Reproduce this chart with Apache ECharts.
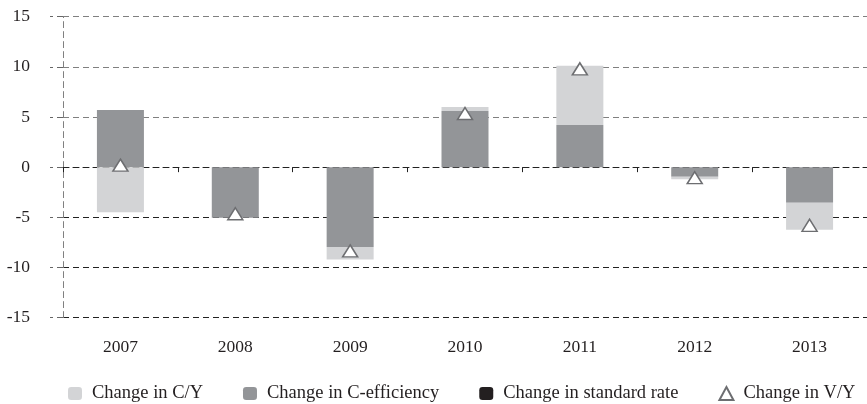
<!DOCTYPE html>
<html>
<head>
<meta charset="utf-8">
<script src="https://cdn.jsdelivr.net/npm/echarts@6/dist/echarts.min.js"></script>
<style>
  html, body {margin: 0; padding: 0; background: #fff;}
  #chart {width: 867px; height: 404px;}
</style>
</head>
<body>
<div id="chart"></div>
<script>
  // values
  const years = ['2007', '2008', '2009', '2010', '2011', '2012', '2013'];
  const changeCY = [-4.5, 0, -1.25, 0.4, 5.9, -0.25, -2.7];
  const changeCEff = [5.7, -5.05, -7.95, 5.6, 4.2, -0.95, -3.55];
  const changeStdRate = [0, 0, 0, 0, 0, 0, 0];
  const changeVY = [0.2, -4.65, -8.35, 5.35, 9.8, -1.05, -5.8];
  const yTicks = [-15, -10, -5, 0, 5, 10, 15];

  const textColor = '#231f20';
  const font = 'Liberation Serif';

  const chart = echarts.init(document.getElementById('chart'));
  chart.setOption({
    animation: false,
    textStyle: {fontFamily: font, color: textColor},
    grid: {left: 63, right: -6, top: 16.7, bottom: 86.4},
    legend: {
      left: 63,
      top: 379,
      itemWidth: 14,
      itemHeight: 13,
      itemGap: 40,
      textStyle: {fontFamily: font, fontSize: 18.5, color: textColor, padding: [0, 0, 0, 5]},
      data: ['Change in C/Y', 'Change in C-efficiency', 'Change in standard rate', 'Change in V/Y']
    },
    xAxis: [{
      type: 'category',
      data: years,
      axisLine: {onZero: true, lineStyle: {color: '#222', type: [6, 4]}},
      axisTick: {show: true, length: 5, lineStyle: {color: '#222'}},
      axisLabel: {show: false}
    }, {
      type: 'category',
      data: years,
      position: 'bottom',
      axisLine: {show: false, onZero: false},
      axisTick: {show: false},
      axisLabel: {fontFamily: font, fontSize: 17.5, color: textColor, margin: 21}
    }],
    yAxis: {
      type: 'value',
      min: yTicks[0],
      max: yTicks[yTicks.length - 1],
      interval: 5,
      axisLine: {show: true, lineStyle: {color: '#808080', type: [6, 4], width: 1}},
      axisTick: {show: true, length: 13, lineStyle: {color: '#666', type: [6, 4]}},
      axisLabel: {fontFamily: font, fontSize: 17.5, color: textColor, margin: 33},
      splitLine: {
        show: true,
        lineStyle: {
          type: [6, 4],
          color: ['#222', '#222', '#222', '#222', '#808080', '#808080', '#808080']
        }
      }
    },
    series: [{
      name: 'Change in C-efficiency',
      type: 'bar',
      stack: 'total',
      barWidth: 47,
      data: changeCEff,
      itemStyle: {color: '#939598'}
    }, {
      name: 'Change in C/Y',
      type: 'bar',
      stack: 'total',
      barWidth: 47,
      data: changeCY,
      itemStyle: {color: '#d3d4d6'}
    }, {
      name: 'Change in standard rate',
      type: 'bar',
      stack: 'total',
      barWidth: 47,
      data: changeStdRate,
      itemStyle: {color: '#231f20'}
    }, {
      name: 'Change in V/Y',
      type: 'scatter',
      symbol: 'triangle',
      symbolSize: [15, 12],
      data: changeVY,
      z: 5,
      itemStyle: {color: '#fff', borderColor: '#6d6e71', borderWidth: 1.5, opacity: 1}
    }]
  });
</script>
</body>
</html>
